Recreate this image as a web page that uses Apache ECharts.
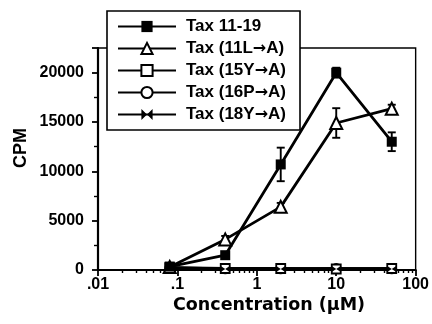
<!DOCTYPE html>
<html><head><meta charset="utf-8">
<script src="https://cdn.jsdelivr.net/npm/echarts@6/dist/echarts.min.js"></script>
<style>html,body{margin:0;padding:0;background:#fff}#c{width:432px;height:324px}</style>
</head><body><div id="c"></div><script>
// ---- data ----
const concentrations = [0.08, 0.4, 2, 10, 50];
const tax1119 = [350, 1500, 10700, 20000, 13000];
const tax1119Err = [150, 250, 1700, 500, 950];
const tax11L = [300, 3100, 6400, 14900, 16350];
const tax11LErr = [100, 350, 400, 1500, 400];
const tax15Y = [250, 150, 150, 100, 150];
const tax16P = [200, 120, 120, 150, 120];
const tax18Y = [250, 100, 100, 100, 100];
const seriesNames = ['Tax 11-19', 'Tax (11L\u2192A)', 'Tax (15Y\u2192A)', 'Tax (16P\u2192A)', 'Tax (18Y\u2192A)'];
const xTickLabels = ['.01', '.1', '1', '10', '100'];
const yTickValues = [0, 5000, 10000, 15000, 20000];
const yMinorTicks = [2500, 7500, 12500, 17500];
const xMinorTicks = [0.02,0.03,0.04,0.05,0.06,0.07,0.08,0.09,
                     0.2,0.3,0.4,0.5,0.6,0.7,0.8,0.9,
                     2,3,4,5,6,7,8,9,
                     20,30,40,50,60,70,80,90];

const pair = (ys) => concentrations.map((x, i) => [x, ys[i]]);
const errData = (ys, es) => concentrations.map((x, i) => [x, ys[i], es[i]]);

const FONT = '"Liberation Sans", Arial, Helvetica, sans-serif';

function errorBar(params, api) {
  const x = api.value(0), y = api.value(1), e = api.value(2);
  const hi = api.coord([x, y + e]);
  const lo = api.coord([x, y - e]);
  const w = 4;
  const st = { stroke: '#000', lineWidth: 1.9 };
  return { type: 'group', children: [
    { type: 'line', shape: { x1: hi[0], y1: hi[1], x2: lo[0], y2: lo[1] }, style: st },
    { type: 'line', shape: { x1: hi[0] - w, y1: hi[1], x2: hi[0] + w, y2: hi[1] }, style: st },
    { type: 'line', shape: { x1: lo[0] - w, y1: lo[1], x2: lo[0] + w, y2: lo[1] }, style: st }
  ]};
}

const lineBase = {
  type: 'line', xAxisIndex: 0, yAxisIndex: 0,
  lineStyle: { color: '#000', width: 2.8 },
  emphasis: { disabled: true }, animation: false, z: 3
};

const chart = echarts.init(document.getElementById('c'), null, { renderer: 'canvas' });
chart.setOption({
  animation: false,
  backgroundColor: '#fff',
  grid: { left: 98, right: 12, top: 48, bottom: 54, show: true, borderColor: '#000', borderWidth: 1.4, backgroundColor: 'transparent' },
  xAxis: [{
    type: 'log', logBase: 10, min: 0.01, max: 100,
    axisLine: { lineStyle: { color: '#000', width: 2.2 } },
    axisTick: { length: 6, lineStyle: { color: '#000', width: 1.8 } },
    splitLine: { show: false },
    axisLabel: {
      color: '#000', fontFamily: FONT, fontWeight: 'bold', fontSize: 16, margin: 7,
      formatter: v => xTickLabels[Math.round(Math.log10(v)) + 2]
    }
  }, {
    type: 'log', logBase: 10, min: 0.01, max: 100, position: 'bottom',
    axisLine: { show: false },
    axisTick: { length: 3, customValues: xMinorTicks, lineStyle: { color: '#000', width: 1.4 } },
    axisLabel: { show: false }, splitLine: { show: false }
  }],
  yAxis: [{
    type: 'value', min: 0, max: 22500, interval: 5000,
    axisLine: { show: true, lineStyle: { color: '#000', width: 2.2 } },
    axisTick: { show: true, length: 6, customValues: yTickValues.concat([22500]), lineStyle: { color: '#000', width: 1.8 } },
    splitLine: { show: false },
    axisLabel: {
      color: '#000', fontFamily: FONT, fontWeight: 'bold', fontSize: 16, margin: 14,
      customValues: yTickValues, formatter: v => String(v)
    }
  }, {
    type: 'value', min: 0, max: 22500, position: 'left',
    axisLine: { show: false },
    axisTick: { show: true, length: 4, customValues: yMinorTicks, lineStyle: { color: '#000', width: 1.4 } },
    axisLabel: { show: false }, splitLine: { show: false }
  }],
  legend: {
    data: seriesNames,
    orient: 'vertical', left: 107, top: 11,
    padding: [7, 14, 7, 10],
    itemWidth: 58, itemHeight: 14, itemGap: 5,
    backgroundColor: '#fff', borderColor: '#000', borderWidth: 1.6,
    formatter: name => name.replace('\u2192', '{ar|\u2192}'),
    textStyle: {
      color: '#000', fontFamily: FONT, fontWeight: 'bold', fontSize: 17, padding: [0, 0, 0, 5],
      rich: { ar: { fontFamily: '"DejaVu Sans", sans-serif', fontWeight: 'bold', fontSize: 16, color: '#000' } }
    },
    selectedMode: false, z: 10
  },
  graphic: [
    { type: 'text', left: 12, top: 128, rotation: Math.PI / 2, style: { text: 'CPM', fill: '#000', font: 'bold 18px ' + FONT } },
    { type: 'text', left: 173, top: 296, style: { text: 'Concentration (\u00b5M)', fill: '#000', font: 'bold 17.5px "DejaVu Sans", sans-serif' } }
  ],
  series: [
    { type: 'custom', name: 'err1', renderItem: errorBar, data: errData(tax1119, tax1119Err), z: 2, silent: true },
    { type: 'custom', name: 'err2', renderItem: errorBar, data: errData(tax11L, tax11LErr), z: 2, silent: true },
    Object.assign({}, lineBase, { name: seriesNames[3], data: pair(tax16P), symbol: 'circle', symbolSize: 9, itemStyle: { color: '#fff', borderColor: '#000', borderWidth: 1.8 } }),
    Object.assign({}, lineBase, { name: seriesNames[2], data: pair(tax15Y), symbol: 'rect', symbolSize: 9, itemStyle: { color: '#fff', borderColor: '#000', borderWidth: 1.8 } }),
    Object.assign({}, lineBase, { name: seriesNames[4], data: pair(tax18Y), symbol: 'path://M0,0L10,6L0,12Z M20,0L10,6L20,12Z', symbolSize: [9, 6], itemStyle: { color: '#000' } }),
    Object.assign({}, lineBase, { name: seriesNames[1], data: pair(tax11L), symbol: 'triangle', symbolSize: 12, itemStyle: { color: '#fff', borderColor: '#000', borderWidth: 2 } }),
    Object.assign({}, lineBase, { name: seriesNames[0], data: pair(tax1119), symbol: 'rect', symbolSize: 10, itemStyle: { color: '#000' } })
  ]
});
</script></body></html>
